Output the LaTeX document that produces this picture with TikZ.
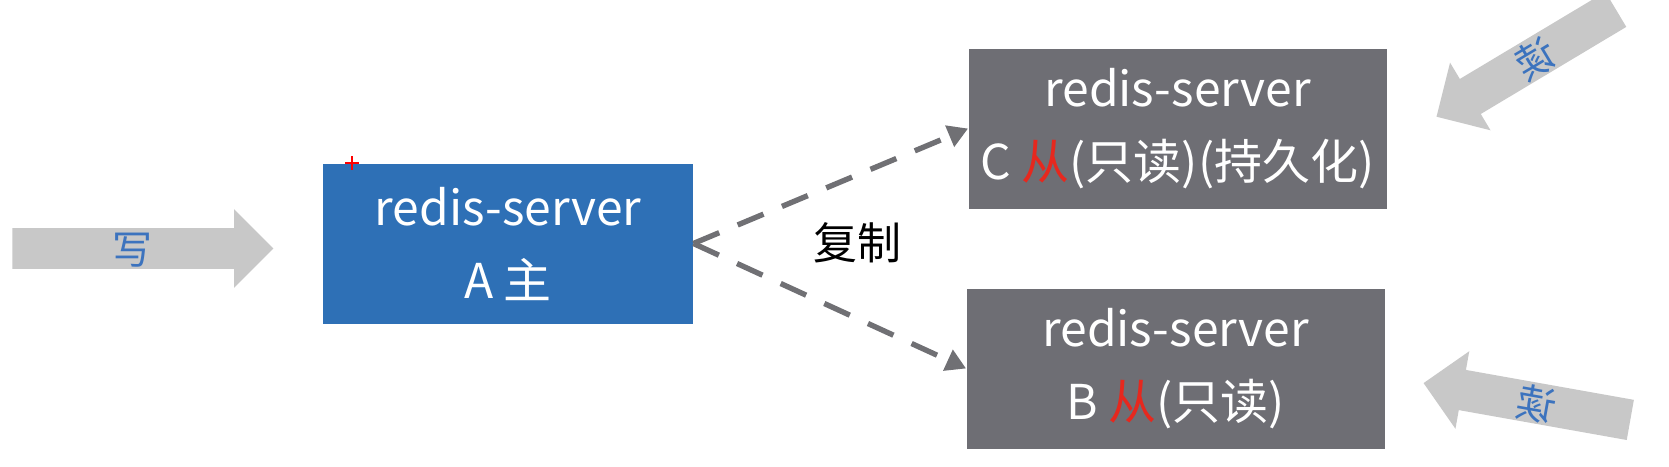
\documentclass[tikz,border=0pt]{standalone}
\usepackage{fontspec}
\setmainfont{Noto Sans CJK SC}
\usepackage {tikz}
\usetikzlibrary {positioning,shapes.arrows,arrows.meta}
\definecolor {masterblue}{RGB}{46,112,182}
\definecolor {slavegray}{RGB}{110,110,116}
\definecolor {dashgray}{RGB}{112,112,116}
\definecolor {arrowgray}{RGB}{200,200,200}
\definecolor {readblue}{RGB}{60,115,190}
\definecolor {slavered}{RGB}{230,40,30}

\begin{document}
\begin{tikzpicture}[x=0.5pt ,y=-0.5pt ,on grid ,
server/.style ={draw=none , minimum width=209pt , minimum height=80pt ,
text=white , align=center , inner sep=0pt ,
font=\fontsize{24pt}{36.5pt}\selectfont },
master/.style ={server , fill=masterblue , minimum width=185pt },
slave/.style ={server , fill=slavegray },
replicate/.style ={dashgray , line width=2.7pt , dash pattern=on 14pt off 10pt ,
-{Triangle[length=10pt,width=11pt]}},
blockarrow/.style ={single arrow , fill=arrowgray , minimum width=39pt ,
single arrow head extend=9.5pt , single arrow head indent=0pt ,
inner sep=0pt , text height=18pt , text depth=2pt ,
text=readblue , font=\fontsize{20pt}{20pt}\selectfont }]
\useasboundingbox (0,0) rectangle (1669,466);
\clip (0,0) rectangle (1669,466);
\node[master] (A) at (508,243.5) {redis-server\\A 主};
\node[slave] (C) [above right =57.5pt and 334.75pt of A] {redis-server\\C \textcolor{slavered}{从}(只读)(持久化)};
\node[slave] (B) [below right =62.5pt and 333.75pt of A] {redis-server\\B \textcolor{slavered}{从}(只读)};
\draw[replicate] (A.east) -- (C.west);
\draw[replicate] (A.east) -- (B.west);
\node[font=\fontsize{22pt}{22pt}\selectfont] (copylabel) at (857,243) {复制};

\node[blockarrow , minimum height=130.5pt , anchor=tip] (write) at (274,248.5) {写};
\node[blockarrow , minimum height=104.5pt , anchor=tip , rotate=30.9 , xscale=-1] (readC) at (1436,117) {读};
\node[blockarrow , minimum height=105pt , anchor=tip , rotate=-10.1 , xscale=-1] (readB) at (1423,383) {读};
% pointer mark
\draw[red , line width=1.3pt] (345,163) -- (359,163) (352,156) -- (352,170);
\end{tikzpicture}
\end{document}
